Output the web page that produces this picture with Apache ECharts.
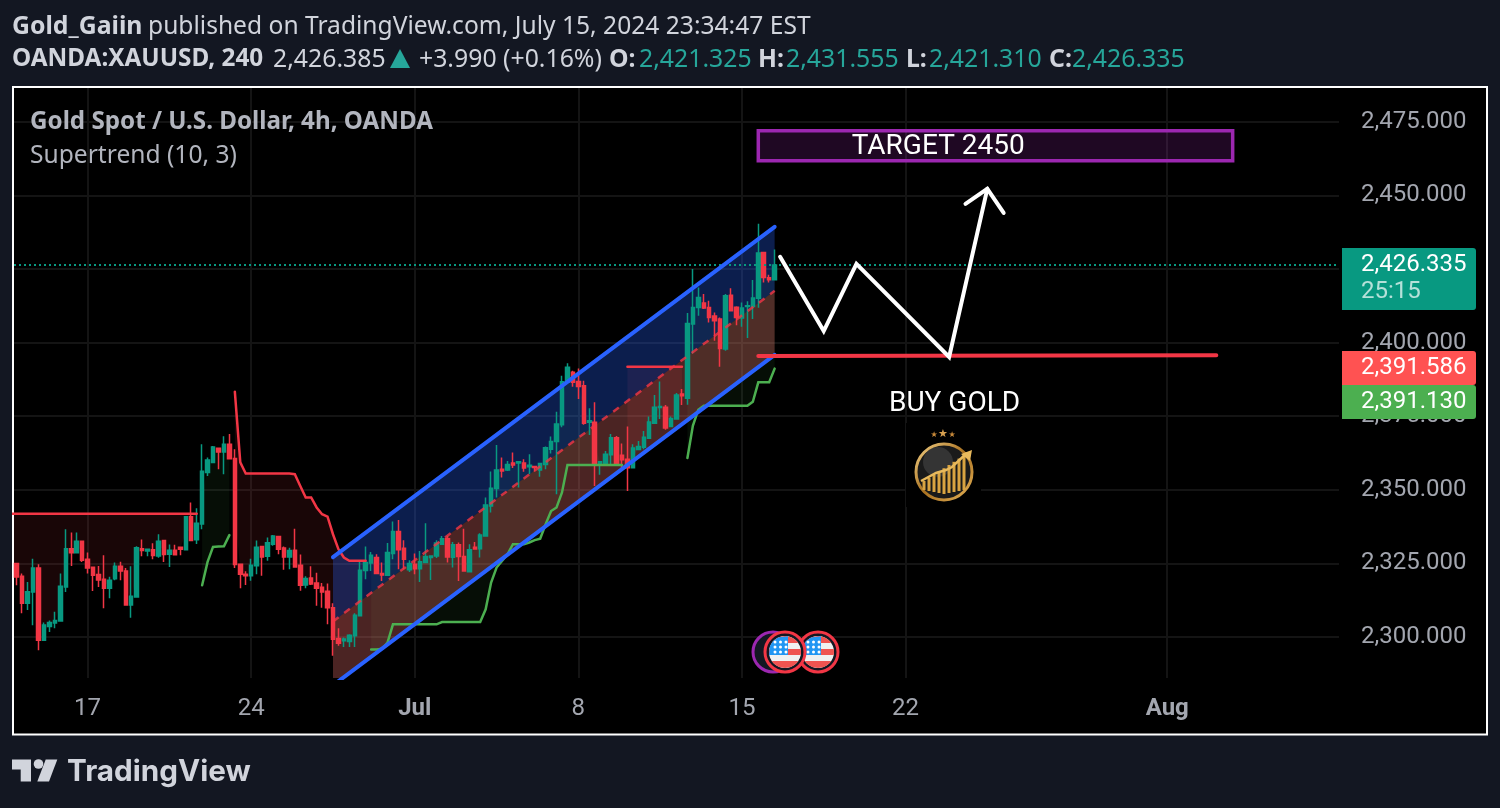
<!DOCTYPE html>
<html>
<head>
<meta charset="utf-8">
<style>
  html, body { margin: 0; padding: 0; background: #131722; }
  #chart { width: 1500px; height: 808px; }
</style>
<script src="https://cdn.jsdelivr.net/npm/echarts@6/dist/echarts.min.js"></script>
</head>
<body>
<div id="chart"></div>
<script>
const barCount = 243;
const categories = Array.from({ length: barCount }, (_, i) => String(i));
const tickBars = [13, 43, 73, 103, 133, 163, 211];
const tickLabels = ['17', '24', 'Jul', '8', '15', '22', 'Aug'];
const priceTicks = [2300, 2325, 2350, 2375, 2400, 2425, 2450, 2475];

const opens = [
  2325.0, 2320.6, 2311.5, 2315.3, 2323.4, 2298.9, 2303.6, 2304.8, 2305.4, 2317.0, 2330.0, 2328.6, 2332.5, 2326.4, 2323.7, 2321.2, 2319.6,
  2316.6, 2319.8, 2324.0, 2322.4, 2310.9, 2313.6, 2330.0, 2329.2, 2329.6, 2327.5, 2332.8, 2328.1, 2329.5, 2330.5, 2329.6, 2340.8, 2333.0,
  2338.4, 2355.9, 2359.3, 2364.1, 2362.8, 2365.5, 2360.6, 2324.7, 2321.3, 2320.8, 2324.2, 2330.7, 2327.4, 2331.5, 2334.1, 2330.2, 2327.2,
  2329.5, 2324.4, 2317.7, 2320.0, 2318.3, 2316.9, 2315.5, 2309.9, 2299.5, 2298.7, 2298.5, 2300.4, 2307.2, 2322.6, 2325.1, 2327.0,
  2321.6, 2321.0, 2328.4, 2335.8, 2330.1, 2322.8, 2324.7, 2323.2, 2325.3, 2327.0, 2327.5, 2331.5, 2333.4, 2327.1, 2331.3, 2327.3, 2322.2,
  2330.5, 2330.0, 2334.3, 2344.5, 2350.4, 2357.0, 2356.7, 2359.1, 2359.1, 2359.1, 2357.8, 2357.9, 2356.7, 2358.6, 2363.8, 2366.4, 2372.1,
  2386.5, 2389.9, 2386.8, 2385.3, 2372.9, 2372.9, 2358.9, 2358.6, 2361.9, 2367.7, 2361.7, 2360.4, 2357.5, 2363.7, 2364.4, 2367.5, 2372.6,
  2377.9, 2378.0, 2371.5, 2374.0, 2382.5, 2381.1, 2406.3, 2411.9, 2413.4, 2411.9, 2409.0, 2408.0, 2397.8, 2416.1, 2412.0, 2408.3, 2412.2,
  2412.2, 2415.0, 2430.6, 2422.0, 2421.325,
];
const closes = [
  2320.4, 2311.5, 2315.4, 2323.4, 2298.9, 2304.1, 2304.9, 2305.6, 2317.2, 2330.0, 2328.6, 2332.5, 2326.1, 2323.4, 2321.0, 2319.4, 2316.6,
  2319.3, 2324.0, 2322.4, 2310.9, 2313.8, 2330.3, 2329.4, 2329.8, 2327.7, 2332.5, 2328.0, 2329.5, 2327.9, 2329.8, 2340.8, 2332.8, 2338.6,
  2356.3, 2360.1, 2364.5, 2362.8, 2365.5, 2360.5, 2324.6, 2321.3, 2320.8, 2324.4, 2330.5, 2327.2, 2332.0, 2334.3, 2329.8, 2327.2, 2329.4,
  2323.8, 2317.6, 2319.9, 2318.0, 2316.6, 2315.3, 2309.9, 2299.2, 2297.9, 2299.3, 2300.6, 2307.4, 2322.7, 2325.3, 2327.8, 2321.6,
  2321.1, 2328.7, 2335.8, 2329.6, 2326.4, 2325.0, 2323.2, 2325.6, 2327.3, 2327.5, 2331.9, 2333.4, 2327.2, 2331.3, 2327.3, 2322.4, 2329.6,
  2329.9, 2334.6, 2344.8, 2350.5, 2356.7, 2356.4, 2358.6, 2358.4, 2359.5, 2357.4, 2358.3, 2357.6, 2358.9, 2364.3, 2366.4, 2372.3, 2386.7,
  2391.6, 2386.5, 2385.1, 2372.6, 2373.4, 2358.5, 2359.5, 2362.1, 2367.7, 2358.4, 2360.2, 2357.5, 2364.2, 2364.7, 2367.8, 2373.0, 2378.0,
  2378.3, 2371.0, 2374.2, 2382.2, 2381.9, 2406.5, 2411.9, 2415.3, 2411.7, 2408.5, 2407.4, 2398.0, 2415.9, 2410.8, 2408.5, 2411.7, 2412.5,
  2415.1, 2430.4, 2422.1, 2421.3, 2426.335,
];
const lows = [
  2317.6, 2308.1, 2309.2, 2304.0, 2295.5, 2298.9, 2301.7, 2303.0, 2305.4, 2315.3, 2324.1, 2328.6, 2325.5, 2321.6, 2315.6, 2317.0, 2309.8,
  2313.2, 2319.3, 2319.3, 2310.9, 2306.5, 2313.6, 2327.4, 2327.4, 2326.4, 2326.9, 2325.5, 2323.8, 2327.8, 2327.8, 2329.6, 2332.8, 2331.6,
  2336.6, 2354.7, 2359.3, 2357.0, 2355.3, 2360.5, 2323.4, 2316.6, 2317.7, 2319.1, 2321.3, 2320.8, 2325.9, 2331.0, 2328.1, 2322.8, 2323.0,
  2323.8, 2315.7, 2316.6, 2317.7, 2310.6, 2309.9, 2304.3, 2293.6, 2297.0, 2296.6, 2296.6, 2296.6, 2307.2, 2319.6, 2322.4, 2321.3,
  2319.0, 2321.0, 2326.4, 2323.0, 2323.0, 2322.1, 2321.3, 2318.7, 2325.3, 2319.4, 2326.8, 2331.5, 2325.3, 2323.6, 2319.0, 2322.2, 2322.2,
  2329.9, 2327.0, 2334.3, 2342.3, 2347.4, 2354.2, 2356.4, 2357.4, 2350.8, 2356.1, 2355.3, 2356.1, 2354.4, 2357.0, 2362.3, 2348.5, 2371.2,
  2386.5, 2385.0, 2380.8, 2372.1, 2368.6, 2351.3, 2355.1, 2358.6, 2358.5, 2358.4, 2356.4, 2349.6, 2357.5, 2363.4, 2363.8, 2367.5, 2372.6,
  2374.0, 2370.4, 2371.5, 2374.0, 2378.8, 2378.9, 2396.3, 2409.1, 2411.4, 2406.8, 2400.6, 2391.8, 2397.2, 2410.8, 2405.9, 2405.4, 2401.5,
  2408.0, 2411.8, 2420.4, 2420.4, 2421.31,
];
const highs = [
  2325.0, 2321.6, 2318.7, 2326.6, 2324.7, 2304.9, 2305.6, 2308.6, 2321.6, 2336.6, 2335.5, 2335.5, 2332.5, 2328.7, 2323.7, 2324.1, 2327.8,
  2320.5, 2325.3, 2325.6, 2323.4, 2324.0, 2330.8, 2333.1, 2330.0, 2331.8, 2334.9, 2332.8, 2331.4, 2331.3, 2330.5, 2340.8, 2345.7, 2343.7,
  2365.5, 2361.0, 2364.9, 2364.1, 2368.2, 2368.9, 2363.8, 2324.9, 2322.3, 2326.6, 2332.8, 2330.7, 2333.8, 2334.6, 2334.1, 2330.7, 2330.3,
  2336.8, 2328.0, 2320.6, 2324.0, 2321.8, 2318.3, 2318.2, 2311.5, 2303.0, 2299.8, 2300.9, 2308.1, 2325.5, 2330.7, 2328.9, 2328.1,
  2325.3, 2331.9, 2339.2, 2339.7, 2332.9, 2326.1, 2328.4, 2329.2, 2338.6, 2327.8, 2332.9, 2334.3, 2334.3, 2332.3, 2332.1, 2336.8, 2331.5,
  2332.3, 2335.2, 2347.4, 2356.2, 2365.2, 2361.0, 2359.8, 2362.7, 2359.8, 2360.4, 2362.1, 2357.9, 2359.0, 2364.7, 2368.1, 2376.5, 2388.7,
  2393.0, 2390.4, 2391.2, 2387.0, 2377.7, 2379.7, 2359.7, 2363.2, 2368.9, 2368.3, 2365.7, 2371.5, 2365.5, 2366.6, 2370.0, 2374.9, 2382.2,
  2386.8, 2378.8, 2374.9, 2382.9, 2384.2, 2410.0, 2425.0, 2418.7, 2416.5, 2414.2, 2410.2, 2408.5, 2416.5, 2418.4, 2412.3, 2413.6, 2414.0,
  2421.2, 2440.3, 2430.6, 2423.0, 2431.555,
];

// supertrend legs, each one starts at the bar given in its *Start
// first leg starts one bar before the first candle, it runs off the left edge
const stDown1Start = -1;
const stDown1 = [
  2341.9, 2341.9, 2341.9, 2341.9, 2341.9, 2341.9, 2341.9, 2341.9, 2341.9, 2341.9, 2341.9, 2341.9, 2341.9, 2341.9, 2341.9, 2341.9, 2341.9, 2341.9,
  2341.9, 2341.9, 2341.9, 2341.9, 2341.9, 2341.9, 2341.9, 2341.9, 2341.9, 2341.9, 2341.9, 2341.9, 2341.9, 2341.9, 2341.9, 2341.9, 2341.9,
];
const stUp1Start = 34;
const stUp1 = [2317.6, 2325.5, 2330.6, 2330.7, 2330.8, 2334.6];
const stDown2Start = 40;
const stDown2 = [
  2383.3, 2359.3, 2355.5, 2355.5, 2355.5, 2355.5, 2355.5, 2355.5, 2355.5, 2355.5, 2355.5, 2355.3, 2351.3, 2347.4, 2347.4, 2344.0, 2341.7,
  2340.9, 2334.9, 2329.8, 2327.0, 2325.9, 2325.9, 2325.9, 2325.9,
];
const stUp2Start = 65;
const stUp2 = [
  2295.8, 2295.8, 2296.0, 2298.1, 2304.3, 2304.3, 2304.3, 2304.3, 2304.3, 2304.3, 2304.3, 2304.3, 2304.3, 2305.1, 2305.1, 2305.1, 2305.1,
  2305.1, 2305.1, 2305.1, 2305.1, 2309.4, 2318.5, 2323.6, 2325.8, 2328.1, 2331.5, 2331.5, 2331.5, 2332.1, 2332.9, 2333.4, 2338.3, 2342.8,
  2344.0, 2349.1, 2358.4, 2358.4, 2358.4, 2358.4, 2358.4, 2358.4, 2358.4, 2358.4, 2358.4, 2358.4, 2358.4,
];
const stDown3Start = 112;
const stDown3 = [2391.8, 2391.8, 2391.8, 2391.8, 2391.8, 2391.8, 2391.8, 2391.8, 2391.8, 2391.8, 2391.8];
const stUp3Start = 123;
const stUp3 = [
  2360.8, 2371.7, 2377.2, 2378.5, 2378.5, 2378.5, 2378.5, 2378.5, 2378.5, 2378.5, 2378.5, 2378.5, 2379.9, 2386.5, 2386.5, 2386.5, 2391.13,
];

// hand drawn things on the chart, [bar, price]
const channelUpper = [[58, 2327.1], [139, 2439.3]];
const channelMiddle = [[58, 2305.3], [139, 2417.55]];
const channelLower = [[58, 2283.6], [139, 2395.8]];
const supportLine = [[136, 2395.4], [220, 2395.7]];
const zigzag = [[140, 2429.1], [148, 2403.9], [154, 2426.7], [171, 2395.1], [178, 2452.2]];
const arrowHead = [[174, 2447.1], [178, 2452.2], [181, 2444.0]];
const targetBox = [[136, 2471.9], [223, 2461.7]];
const lastPrice = 2426.335;

const ohlcLabels = ['O:', 'H:', 'L:', 'C:'];
const ohlcValues = ['2,421.325', '2,431.555', '2,421.310', '2,426.335'];

const RED = '#f23645';
const TEAL = '#089981';
const ST_GREEN = '#4caf50';
const HEAD_FONT = '"Noto Sans"';

const chart = echarts.init(document.getElementById('chart'));

const toPairs = (start, values) => values.map((v, k) => [start + k, v]);

function lineSeries(data, color, width, extra = {}) {
  return {
    type: 'line',
    data,
    symbol: 'none',
    silent: true,
    z: 5,
    lineStyle: { color, width, cap: 'round', join: 'miter' },
    ...extra,
  };
}

function polygonSeries(getPoints, fill, z = 1) {
  return {
    type: 'custom',
    data: [[0, 0]],
    clip: true,
    silent: true,
    z,
    renderItem(params, api) {
      return {
        type: 'polygon',
        shape: { points: getPoints().map((p) => api.coord(p)) },
        style: { fill },
      };
    },
  };
}

// fill between a supertrend leg and the candle bodies
function stFill(start, values, fill) {
  return polygonSeries(() => {
    const top = toPairs(start, values);
    const mid = values.map((v, k) => {
      const bar = Math.max(start + k, 0);
      return [start + k, (opens[bar] + closes[bar]) / 2];
    });
    return top.concat(mid.reverse());
  }, fill);
}

function textSeries(bar, price, text) {
  return {
    type: 'custom',
    data: [[bar, price]],
    silent: true,
    z: 7,
    renderItem(params, api) {
      const p = api.coord([bar, price]);
      return {
        type: 'text',
        style: {
          text,
          x: p[0],
          y: p[1],
          fill: '#ffffff',
          font: '28px Roboto',
          align: 'center',
          verticalAlign: 'middle',
        },
      };
    },
  };
}

function headTitle(left, top, text, fontSize, fontWeight, color) {
  return { left, top, padding: 0, text, textStyle: { fontFamily: HEAD_FONT, fontSize, fontWeight, color } };
}

function circlePoints(cx, cy, r, y0, y1) {
  // slice of a circle between two heights, for the flag stripes
  const pts = [];
  for (let i = 0; i <= 8; i++) {
    const y = y0 + ((y1 - y0) * i) / 8;
    pts.push([cx + Math.sqrt(Math.max(r * r - (y - cy) * (y - cy), 0)), y]);
  }
  for (let i = 8; i >= 0; i--) {
    const y = y0 + ((y1 - y0) * i) / 8;
    pts.push([cx - Math.sqrt(Math.max(r * r - (y - cy) * (y - cy), 0)), y]);
  }
  return pts;
}

function flag(cx, cy, z) {
  const r = 16;
  const items = [
    { type: 'circle', z, shape: { cx, cy, r: 20 }, style: { fill: '#131722', stroke: RED, lineWidth: 3 } },
    { type: 'circle', z, shape: { cx, cy, r }, style: { fill: '#f0f0f0' } },
    { type: 'polygon', z, shape: { points: circlePoints(cx, cy, r, cy - r, cy - 9) }, style: { fill: '#ef5350' } },
    { type: 'polygon', z, shape: { points: circlePoints(cx, cy, r, cy - 3, cy + 3) }, style: { fill: '#ef5350' } },
    { type: 'polygon', z, shape: { points: circlePoints(cx, cy, r, cy + 9, cy + r) }, style: { fill: '#ef5350' } },
    {
      type: 'polygon',
      z,
      shape: { points: [[cx - 15, cy - 6], [cx - 12, cy - 11], [cx - 7, cy - 14.5], [cx + 3, cy - 15.7], [cx + 3, cy + 3], [cx - 16, cy + 3]] },
      style: { fill: '#2196f3' },
    },
  ];
  [-10, -5, 0].forEach((dy) => {
    [-10, -4.5, 1].forEach((dx) => {
      items.push({ type: 'circle', z, shape: { cx: cx + dx, cy: cy + dy, r: 1.5 }, style: { fill: '#ffffff' } });
    });
  });
  return items;
}

function priceTag(y, h, fill, text, sub) {
  const items = [
    { type: 'rect', z: 50, shape: { x: 1342, y, width: 134, height: h, r: [0, 3, 3, 0] }, style: { fill } },
    { type: 'text', z: 51, style: { text, x: 1361, y: y + 17, fill: '#ffffff', font: '24px Roboto', verticalAlign: 'middle' } },
  ];
  if (sub) {
    items.push({
      type: 'text',
      z: 51,
      style: { text: sub, x: 1361, y: y + 44, fill: 'rgba(255,255,255,0.7)', font: '24px Roboto', verticalAlign: 'middle' },
    });
  }
  return items;
}

// round badge next to BUY GOLD
const emblemBars = [-20, -15, -10, -5, 0, 5, 10, 15, 20];
const emblem = [
  { type: 'rect', z: 6, shape: { x: 906, y: 423, width: 75, height: 84 }, style: { fill: '#000000' } },
  {
    type: 'circle',
    z: 7,
    shape: { cx: 944, cy: 472, r: 28 },
    style: {
      fill: '#1a1a1a',
      lineWidth: 3,
      stroke: new echarts.graphic.LinearGradient(0, 0, 1, 1, [
        { offset: 0, color: '#f5d48a' },
        { offset: 0.5, color: '#a8701f' },
        { offset: 1, color: '#e6b45a' },
      ]),
    },
  },
  { type: 'circle', z: 7, shape: { cx: 938, cy: 462, r: 15 }, style: { fill: '#555555', opacity: 0.45 } },
  ...emblemBars.map((dx, i) => ({
    type: 'rect',
    z: 8,
    shape: { x: 944 + dx - 1.5, y: 484 - i * 3.2 - 3, width: 3, height: 9 + i * 3.2 + (i === 4 ? 4 : 4 - Math.abs(i - 4)) },
    style: { fill: '#d9a441' },
  })),
  {
    type: 'polyline',
    z: 9,
    shape: { points: [[921, 481], [936, 473], [946, 470], [952, 467], [967, 453]] },
    style: { stroke: '#e8b95c', lineWidth: 2.5, fill: null },
  },
  { type: 'polygon', z: 9, shape: { points: [[972, 450], [970, 461], [961, 454]] }, style: { fill: '#e8b95c' } },
  { type: 'text', z: 9, style: { text: '★', x: 934, y: 435, fill: '#c98a3a', font: '8px "DejaVu Sans"', align: 'center', verticalAlign: 'middle' } },
  { type: 'text', z: 9, style: { text: '★', x: 943, y: 434, fill: '#d8a050', font: '11px "DejaVu Sans"', align: 'center', verticalAlign: 'middle' } },
  { type: 'text', z: 9, style: { text: '★', x: 952, y: 435, fill: '#c98a3a', font: '8px "DejaVu Sans"', align: 'center', verticalAlign: 'middle' } },
];

const ohlcLabelLeft = [609, 758, 906, 1049];
const ohlcValueLeft = [639, 786, 929, 1072];

const option = {
  animation: false,
  backgroundColor: '#131722',
  title: [
    headTitle(12, 14, 'Gold_Gaiin', 24.8, 'bold', '#d1d4dc'),
    headTitle(148, 14, 'published on TradingView.com, July 15, 2024 23:34:47 EST', 24.6, 'normal', '#d1d4dc'),
    headTitle(12, 47, 'OANDA:XAUUSD, 240', 24.3, 'bold', '#d1d4dc'),
    headTitle(273, 47, '2,426.385', 24.8, 'normal', '#d1d4dc'),
    headTitle(419, 47, '+3.990 (+0.16%)', 24.8, 'normal', '#d1d4dc'),
    ...ohlcLabels.map((t, i) => headTitle(ohlcLabelLeft[i], 47, t, 24.8, 'bold', '#d1d4dc')),
    ...ohlcValues.map((t, i) => headTitle(ohlcValueLeft[i], 47, t, 24.8, 'normal', '#26a69a')),
    headTitle(30, 110, 'Gold Spot / U.S. Dollar, 4h, OANDA', 24.2, 'bold', '#b2b5be'),
    headTitle(30, 143, 'Supertrend (10, 3)', 24.6, 'normal', '#b2b5be'),
    {
      left: 67,
      top: 757,
      padding: 0,
      text: 'TradingView',
      textStyle: { fontFamily: 'Inter', fontSize: 29.7, fontWeight: 700, color: '#d1d4dc' },
    },
  ],
  grid: { left: 14, top: 88, width: 1325, height: 590, containLabel: false },
  xAxis: {
    type: 'category',
    data: categories,
    boundaryGap: true,
    axisLine: { show: false },
    axisTick: { show: false },
    axisLabel: {
      interval: (i) => tickBars.includes(i),
      margin: 19,
      fontFamily: 'Roboto',
      fontSize: 24,
      color: '#a3a6af',
      formatter(value) {
        const label = tickLabels[tickBars.indexOf(Number(value))];
        return /[a-z]/i.test(label) ? `{b|${label}}` : label;
      },
      rich: { b: { fontFamily: 'Roboto', fontSize: 24, fontWeight: 'bold', color: '#a3a6af' } },
    },
    splitLine: {
      show: true,
      interval: (i) => tickBars.includes(i),
      alignWithLabel: true,
      lineStyle: { color: '#141414', width: 2 },
    },
  },
  yAxis: {
    type: 'value',
    position: 'right',
    min: 2286.08,
    max: 2486.44,
    axisLine: { show: false },
    axisTick: { show: false, customValues: priceTicks },
    axisLabel: {
      customValues: priceTicks,
      margin: 22,
      fontFamily: 'Roboto',
      fontSize: 24,
      color: '#a3a6af',
      formatter: (v) => v.toLocaleString('en-US', { minimumFractionDigits: 3 }),
    },
    splitLine: { show: true, lineStyle: { color: '#141414', width: 2 } },
  },
  series: [
    stFill(stDown1Start, stDown1, 'rgba(242,54,69,0.1)'),
    stFill(stUp1Start, stUp1, 'rgba(76,175,80,0.08)'),
    stFill(stDown2Start, stDown2, 'rgba(242,54,69,0.1)'),
    stFill(stUp2Start, stUp2, 'rgba(76,175,80,0.08)'),
    stFill(stDown3Start, stDown3, 'rgba(242,54,69,0.1)'),
    stFill(stUp3Start, stUp3, 'rgba(76,175,80,0.08)'),
    polygonSeries(() => [channelUpper[0], channelUpper[1], channelMiddle[1], channelMiddle[0]], 'rgba(41,98,255,0.3)'),
    polygonSeries(() => [channelMiddle[0], channelMiddle[1], channelLower[1], channelLower[0]], 'rgba(247,120,115,0.3)'),
    {
      type: 'candlestick',
      data: opens.map((o, i) => [o, closes[i], lows[i], highs[i]]),
      barWidth: 4,
      silent: true,
      z: 3,
      itemStyle: { color: TEAL, color0: RED, borderColor: TEAL, borderColor0: RED, borderWidth: 1.5 },
      markLine: {
        silent: true,
        symbol: 'none',
        label: { show: false },
        data: [{ yAxis: lastPrice }],
        lineStyle: { color: TEAL, type: [2, 3], width: 2 },
      },
    },
    lineSeries(toPairs(stDown1Start, stDown1), RED, 2.5, { z: 4 }),
    lineSeries(toPairs(stUp1Start, stUp1), ST_GREEN, 2.5, { z: 4 }),
    lineSeries(toPairs(stDown2Start, stDown2), RED, 2.5, { z: 4 }),
    lineSeries(toPairs(stUp2Start, stUp2), ST_GREEN, 2.5, { z: 4 }),
    lineSeries(toPairs(stDown3Start, stDown3), RED, 2.5, { z: 4 }),
    lineSeries(toPairs(stUp3Start, stUp3), ST_GREEN, 2.5, { z: 4 }),
    lineSeries(channelUpper, '#2962ff', 4),
    lineSeries(channelLower, '#2962ff', 4),
    lineSeries(channelMiddle, RED, 2.5, { lineStyle: { color: RED, width: 2.5, type: [7, 7], opacity: 0.8 } }),
    lineSeries(supportLine, RED, 4, { z: 6 }),
    lineSeries(zigzag, '#ffffff', 4, { z: 6 }),
    lineSeries(arrowHead, '#ffffff', 4, { z: 6 }),
    {
      type: 'custom',
      data: [[0, 0]],
      silent: true,
      z: 6,
      renderItem(params, api) {
        const a = api.coord(targetBox[0]);
        const b = api.coord(targetBox[1]);
        return {
          type: 'rect',
          shape: { x: a[0], y: a[1], width: b[0] - a[0], height: b[1] - a[1] },
          style: { fill: 'rgba(156,39,176,0.2)', stroke: '#9c27b0', lineWidth: 3.5 },
        };
      },
    },
    textSeries(169, 2466.4, 'TARGET 2450'),
    textSeries(172, 2379.1, 'BUY GOLD'),
  ],
  graphic: [
    { type: 'rect', z: -1, silent: true, shape: { x: 13, y: 87, width: 1474, height: 647.5 }, style: { fill: '#000000', stroke: '#ffffff', lineWidth: 2 } },
    { type: 'polygon', z: 3, shape: { points: [[400, 49], [410, 68], [390, 68]] }, style: { fill: '#26a69a' } },
    ...priceTag(248, 62, TEAL, '2,426.335', '25:15'),
    ...priceTag(351, 34, '#ff5252', '2,391.586'),
    ...priceTag(385, 34, ST_GREEN, '2,391.130'),
    { type: 'circle', z: 20, shape: { cx: 773, cy: 652, r: 20 }, style: { fill: '#131722', stroke: '#9c27b0', lineWidth: 3 } },
    ...flag(818, 652, 21),
    ...flag(785, 652, 22),
    ...emblem,
    { type: 'polygon', z: 3, shape: { points: [[12, 759.5], [31, 759.5], [31, 781.5], [20.7, 781.5], [20.7, 769.5], [12, 769.5]] }, style: { fill: '#d1d4dc' } },
    { type: 'circle', z: 3, shape: { cx: 38.5, cy: 764, r: 4.8 }, style: { fill: '#d1d4dc' } },
    { type: 'polygon', z: 3, shape: { points: [[45.7, 759.5], [57.3, 759.5], [49, 781.5], [37.3, 781.5]] }, style: { fill: '#d1d4dc' } },
  ],
};

chart.setOption(option);
</script>
</body>
</html>
